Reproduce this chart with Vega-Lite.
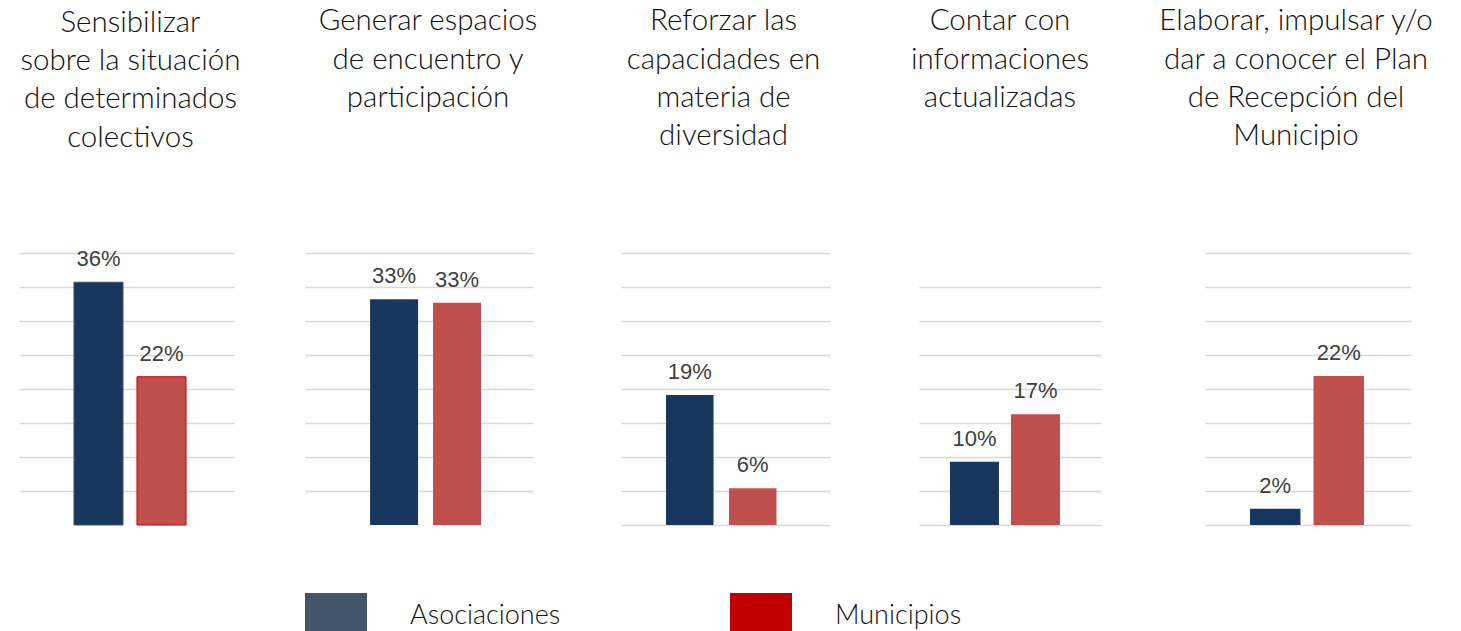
{
  "$schema": "https://vega.github.io/schema/vega-lite/v6.json",
  "padding": {"left": 0, "top": 6, "right": 0, "bottom": 0},
  "background": "white",
  "spacing": 0,
  "bounds": "full",
  "align": "each",
  "data": {"values": [
    {"accion": "Sensibilizar", "serie": "Asociaciones", "valor": 35.7, "etiqueta": "36%"},
    {"accion": "Sensibilizar", "serie": "Municipios", "valor": 21.8, "etiqueta": "22%"},
    {"accion": "Generar", "serie": "Asociaciones", "valor": 33.2, "etiqueta": "33%"},
    {"accion": "Generar", "serie": "Municipios", "valor": 32.7, "etiqueta": "33%"},
    {"accion": "Reforzar", "serie": "Asociaciones", "valor": 19.1, "etiqueta": "19%"},
    {"accion": "Reforzar", "serie": "Municipios", "valor": 5.4, "etiqueta": "6%"},
    {"accion": "Contar", "serie": "Asociaciones", "valor": 9.3, "etiqueta": "10%"},
    {"accion": "Contar", "serie": "Municipios", "valor": 16.3, "etiqueta": "17%"},
    {"accion": "Elaborar", "serie": "Asociaciones", "valor": 2.4, "etiqueta": "2%"},
    {"accion": "Elaborar", "serie": "Municipios", "valor": 21.9, "etiqueta": "22%"}
  ]},
  "config": {
    "view": {"stroke": null},
    "title": {"font": "Lato", "fontWeight": 300, "fontSize": 29.5, "lineHeight": 38.4, "color": "#111111", "anchor": "middle", "frame": "group"},
    "text": {"font": "Liberation Sans", "fontSize": 22, "color": "#404040", "baseline": "alphabetic", "dy": -16},
    "axis": {"gridColor": "#D9D9D9", "gridWidth": 1.5, "ticks": false, "domain": false, "title": null}
  },
  "hconcat": [
    {
      "width": 215, "height": 272,
      "title": {"text": ["Sensibilizar", "sobre la situación", "de determinados", "colectivos"], "offset": 95, "dx": 4},
      "transform": [{"filter": "datum.accion === 'Sensibilizar'"}],
      "encoding": {"x": {"field": "serie", "type": "nominal", "axis": null, "scale": {"paddingInner": 0.222, "paddingOuter": 0.817, "align": 0.534}}},
      "layer": [
        {"mark": "bar", "encoding": {
          "y": {"field": "valor", "type": "quantitative", "scale": {"domain": [0, 40], "nice": false}, "axis": {"orient": "left", "grid": true, "labels": false, "values": [5, 10, 15, 20, 25, 30, 35, 40], "minExtent": 19, "maxExtent": 19}},
          "fill": {"field": "serie", "type": "nominal", "scale": {"range": ["#17375E", "#C0504D"]}, "legend": null},
          "stroke": {"field": "serie", "type": "nominal", "scale": {"domain": ["Asociaciones", "Municipios"], "range": ["#44546A", "#C00000"]}, "legend": {"title": null, "orient": "none", "legendX": 286, "legendY": 340, "direction": "horizontal", "padding": 0, "symbolType": "square", "symbolSize": 4, "symbolStrokeWidth": 60, "symbolOpacity": 1, "labelFont": "Lato", "labelFontWeight": 300, "labelFontSize": 27, "labelColor": "#111111", "labelBaseline": "alphabetic", "labelOffset": 43, "columnPadding": 79, "labelLimit": 400}}
        }},
        {"mark": "text", "encoding": {
          "y": {"field": "valor", "type": "quantitative", "axis": {"orient": "right", "grid": false, "labels": true, "labelOpacity": 0, "values": [0], "minExtent": 35, "maxExtent": 35}},
          "text": {"field": "etiqueta"}
        }}
      ],
      "resolve": {"axis": {"y": "independent"}}
    },
    {
      "width": 228, "height": 272,
      "title": {"text": ["Generar espacios", "de encuentro y", "participación", " "], "offset": 101, "dx": 9},
      "transform": [{"filter": "datum.accion === 'Generar'"}],
      "encoding": {"x": {"field": "serie", "type": "nominal", "axis": null, "scale": {"paddingInner": 0.238, "paddingOuter": 0.929, "align": 0.556}}},
      "layer": [
        {"mark": "bar", "encoding": {
          "y": {"field": "valor", "type": "quantitative", "scale": {"domain": [0, 40], "nice": false}, "axis": {"orient": "left", "grid": true, "labels": false, "values": [5, 10, 15, 20, 25, 30, 35, 40], "minExtent": 36, "maxExtent": 36}},
          "fill": {"field": "serie", "type": "nominal", "scale": {"range": ["#17375E", "#C0504D"]}, "legend": null}
        }},
        {"mark": "text", "encoding": {
          "y": {"field": "valor", "type": "quantitative", "axis": {"orient": "right", "grid": false, "labels": true, "labelOpacity": 0, "values": [0], "minExtent": 44, "maxExtent": 44}},
          "text": {"field": "etiqueta"}
        }}
      ],
      "resolve": {"axis": {"y": "independent"}}
    },
    {
      "width": 209, "height": 272,
      "title": {"text": ["Reforzar las", "capacidades en", "materia de", "diversidad"], "offset": 101, "dx": -2},
      "transform": [{"filter": "datum.accion === 'Reforzar'"}],
      "encoding": {"x": {"field": "serie", "type": "nominal", "axis": null, "scale": {"paddingInner": 0.246, "paddingOuter": 0.782, "align": 0.457}}},
      "layer": [
        {"mark": "bar", "encoding": {
          "y": {"field": "valor", "type": "quantitative", "scale": {"domain": [0, 40], "nice": false}, "axis": {"orient": "left", "grid": true, "labels": false, "values": [0, 5, 10, 15, 20, 25, 30, 35, 40], "minExtent": 44, "maxExtent": 44}},
          "fill": {"field": "serie", "type": "nominal", "scale": {"range": ["#17375E", "#C0504D"]}, "legend": null}
        }},
        {"mark": "text", "encoding": {
          "y": {"field": "valor", "type": "quantitative", "axis": {"orient": "right", "grid": false, "labels": true, "labelOpacity": 0, "values": [0], "minExtent": 44, "maxExtent": 44}},
          "text": {"field": "etiqueta"}
        }}
      ],
      "resolve": {"axis": {"y": "independent"}}
    },
    {
      "width": 182, "height": 272,
      "title": {"text": ["Contar con", "informaciones", "actualizadas", " "], "offset": 101, "dx": -10},
      "transform": [{"filter": "datum.accion === 'Contar'"}],
      "encoding": {"x": {"field": "serie", "type": "nominal", "axis": null, "scale": {"paddingInner": 0.197, "paddingOuter": 0.59, "align": 0.43}}},
      "layer": [
        {"mark": "bar", "encoding": {
          "y": {"field": "valor", "type": "quantitative", "scale": {"domain": [0, 40], "nice": false}, "axis": {"orient": "left", "grid": true, "labels": false, "values": [0, 5, 10, 15, 20, 25, 30, 35], "minExtent": 45, "maxExtent": 45}},
          "fill": {"field": "serie", "type": "nominal", "scale": {"range": ["#17375E", "#C0504D"]}, "legend": null}
        }},
        {"mark": "text", "encoding": {
          "y": {"field": "valor", "type": "quantitative", "axis": {"orient": "right", "grid": false, "labels": true, "labelOpacity": 0, "values": [0], "minExtent": 30, "maxExtent": 30}},
          "text": {"field": "etiqueta"}
        }}
      ],
      "resolve": {"axis": {"y": "independent"}}
    },
    {
      "width": 206, "height": 272,
      "title": {"text": ["Elaborar, impulsar y/o", "dar a conocer el Plan", "de Recepción del", "Municipio"], "offset": 101, "dx": -12},
      "transform": [{"filter": "datum.accion === 'Elaborar'"}],
      "encoding": {"x": {"field": "serie", "type": "nominal", "axis": null, "scale": {"paddingInner": 0.205, "paddingOuter": 0.724, "align": 0.489}}},
      "layer": [
        {"mark": "bar", "encoding": {
          "y": {"field": "valor", "type": "quantitative", "scale": {"domain": [0, 40], "nice": false}, "axis": {"orient": "left", "grid": true, "labels": false, "values": [0, 5, 10, 15, 20, 25, 30, 35, 40], "minExtent": 74, "maxExtent": 74}},
          "fill": {"field": "serie", "type": "nominal", "scale": {"range": ["#17375E", "#C0504D"]}, "legend": null}
        }},
        {"mark": "text", "encoding": {
          "y": {"field": "valor", "type": "quantitative", "axis": {"orient": "right", "grid": false, "labels": true, "labelOpacity": 0, "values": [0], "minExtent": 50, "maxExtent": 50}},
          "text": {"field": "etiqueta"}
        }}
      ],
      "resolve": {"axis": {"y": "independent"}}
    }
  ]
}
